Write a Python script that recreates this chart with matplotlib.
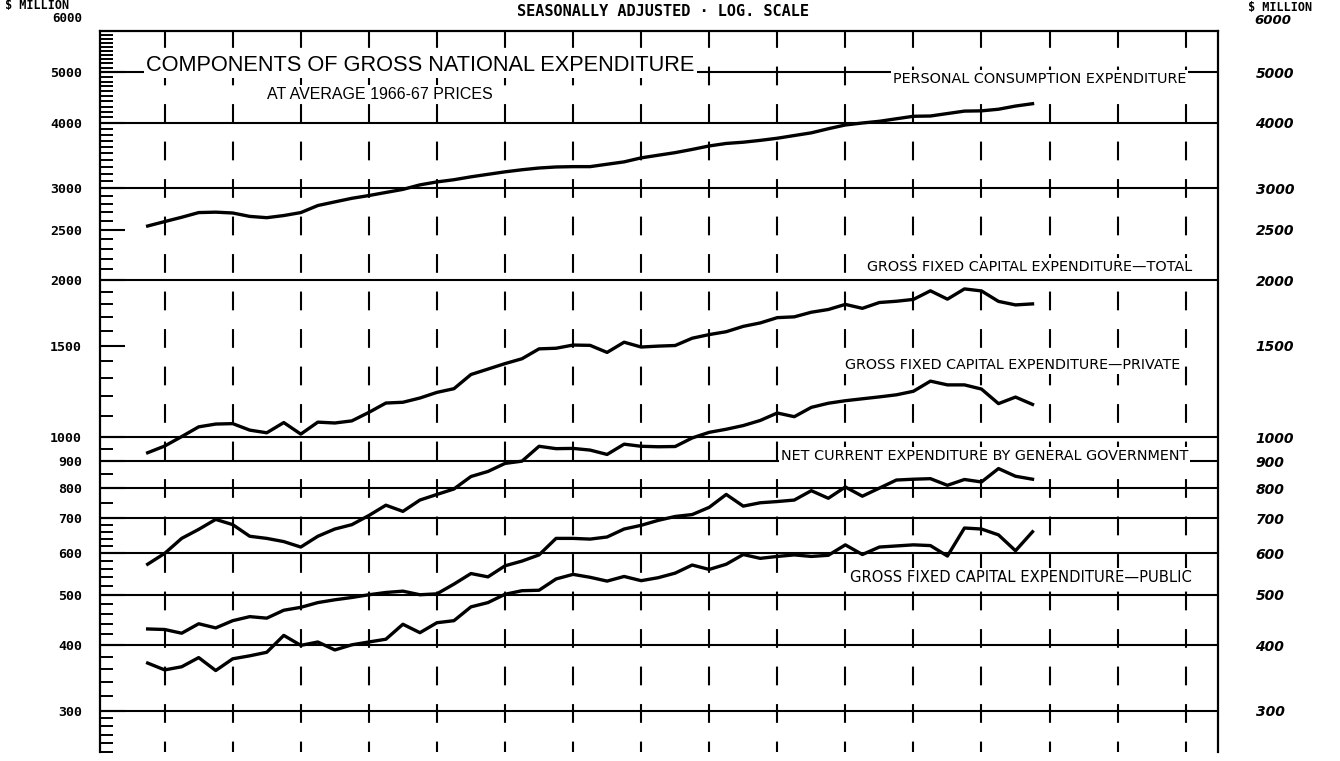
import matplotlib.pyplot as plt
from matplotlib.ticker import FixedLocator, FixedFormatter, NullFormatter

# quarterly index, first plotted quarter = 0
quarters = list(range(53))

personal_consumption = [2540, 2590, 2640, 2695, 2700, 2690, 2650, 2635, 2660, 2695,
                        2780, 2825, 2870, 2905, 2945, 2985, 3045, 3085, 3115, 3155,
                        3190, 3225, 3255, 3280, 3295, 3300, 3300, 3335, 3370, 3430,
                        3470, 3510, 3560, 3615, 3655, 3675, 3705, 3740, 3785, 3830,
                        3900, 3965, 4000, 4030, 4075, 4120, 4125, 4170, 4215, 4220,
                        4250, 4310, 4355]
gfce_total = [935, 963, 1004, 1048, 1061, 1063, 1033, 1021, 1068, 1015,
              1070, 1066, 1076, 1117, 1164, 1168, 1190, 1220, 1240, 1320,
              1352, 1385, 1415, 1478, 1482, 1503, 1501, 1455, 1522, 1490,
              1496, 1500, 1549, 1574, 1594, 1632, 1657, 1696, 1702, 1737,
              1758, 1798, 1767, 1813, 1823, 1838, 1909, 1840, 1925, 1908,
              1822, 1794, 1802]
gfce_private = [572, 600, 641, 667, 697, 681, 647, 641, 632, 617,
                647, 668, 681, 709, 742, 722, 759, 778, 797, 842,
                861, 892, 901, 962, 952, 953, 946, 928, 971, 962,
                960, 961, 998, 1023, 1037, 1054, 1078, 1114, 1096, 1142,
                1163, 1176, 1186, 1196, 1207, 1226, 1282, 1261, 1261, 1238,
                1161, 1195, 1157]
net_current_govt = [430, 429, 422, 440, 432, 446, 454, 451, 467, 473,
                    483, 489, 494, 500, 505, 508, 500, 502, 524, 549,
                    541, 568, 580, 596, 641, 641, 639, 645, 668, 679,
                    694, 706, 712, 735, 778, 739, 750, 754, 759, 791,
                    765, 804, 772, 800, 829, 832, 834, 810, 831, 822,
                    872, 843, 832]
gfce_public = [370, 359, 364, 379, 358, 377, 382, 388, 418, 400,
               406, 392, 401, 406, 411, 439, 423, 442, 446, 474,
               483, 501, 509, 510, 536, 547, 540, 531, 542, 532,
               539, 550, 570, 559, 572, 597, 587, 592, 596, 592,
               595, 623, 597, 617, 620, 623, 621, 593, 671, 668,
               651, 607, 660]

grid_levels = [5000, 4000, 3000, 2000, 1000, 900, 800, 700, 600, 500, 400, 300]
label_levels = [5000, 4000, 3000, 2500, 2000, 1500, 1000, 900, 800, 700, 600, 500, 400, 300]
year_marks = list(range(1, 62, 4))

minor_levels = (list(range(250, 300, 10)) + list(range(320, 700, 20)) + [750, 850, 950]
                + [v for v in range(1100, 6000, 100) if v not in label_levels])

fig = plt.figure(figsize=(13.4, 7.61), dpi=100)
ax = fig.add_axes([100 / 1340, 9 / 761, 1118 / 1340, 721 / 761])
ax.set_yscale("log")
ax.set_ylim(250, 6000)
ax.set_xlim(-2.8, 62.9)

for v in grid_levels:
    ax.axhline(v, color="black", lw=1.5, zorder=1)
for t in year_marks:
    ax.axvline(t, color="black", lw=1.5, ls=(4, (9, 9)), zorder=1)

for series in [personal_consumption, gfce_total, gfce_private, net_current_govt, gfce_public]:
    ax.plot(quarters, series, color="black", lw=2.4, solid_joinstyle="round", zorder=5)

# texts on the chart
box = dict(facecolor="white", edgecolor="none", pad=1.5)
ax.text(-0.1, 5160, "COMPONENTS OF GROSS NATIONAL EXPENDITURE", fontsize=15.7,
        family="Liberation Sans", ha="left", va="center", bbox=box, zorder=3)
ax.text(7.0, 4530, "AT AVERAGE 1966-67 PRICES", fontsize=11.5,
        family="Liberation Sans", ha="left", va="center", bbox=box, zorder=3)
ax.text(43.8, 4850, "PERSONAL CONSUMPTION EXPENDITURE", fontsize=10.4,
        ha="left", va="center", bbox=box, zorder=3)
ax.text(42.3, 2124, "GROSS FIXED CAPITAL EXPENDITURE\u2014TOTAL", fontsize=10.4,
        ha="left", va="center", bbox=box, zorder=3)
ax.text(41.0, 1376, "GROSS FIXED CAPITAL EXPENDITURE\u2014PRIVATE", fontsize=10.3,
        ha="left", va="center", bbox=box, zorder=3)
ax.text(37.2, 923, "NET CURRENT EXPENDITURE BY GENERAL GOVERNMENT", fontsize=10.4,
        ha="left", va="center", bbox=box, zorder=3)
ax.text(41.3, 539, "GROSS FIXED CAPITAL EXPENDITURE\u2014PUBLIC", fontsize=10.6,
        ha="left", va="center", bbox=box, zorder=3)

# axes and ticks
ax.spines["bottom"].set_visible(False)
for s in ["left", "right", "top"]:
    ax.spines[s].set_linewidth(1.6)
ax.set_xticks([])

ax.yaxis.set_major_locator(FixedLocator(label_levels))
ax.yaxis.set_major_formatter(FixedFormatter([str(v) for v in label_levels]))
ax.yaxis.set_minor_locator(FixedLocator(minor_levels))
ax.yaxis.set_minor_formatter(NullFormatter())
ax.tick_params(axis="y", which="major", direction="in", length=18, width=1.5, pad=13,
               left=True, right=True, labelleft=True, labelright=False)
ax.tick_params(axis="y", which="minor", direction="in", length=9, width=1.4,
               left=True, right=True)
for lab in ax.get_yticklabels():
    lab.set_family("DejaVu Sans Mono")
    lab.set_fontweight("bold")
    lab.set_fontsize(9.5)

ax2 = ax.twinx()
ax2.set_yscale("log")
ax2.set_ylim(250, 6000)
ax2.yaxis.set_major_locator(FixedLocator(label_levels))
ax2.yaxis.set_major_formatter(FixedFormatter([str(v) for v in label_levels]))
ax2.yaxis.set_minor_locator(FixedLocator(minor_levels))
ax2.yaxis.set_minor_formatter(NullFormatter())
ax2.tick_params(axis="y", which="both", length=0, pad=27)
for s in ["left", "right", "top", "bottom"]:
    ax2.spines[s].set_visible(False)
for lab in ax2.get_yticklabels():
    lab.set_fontweight("bold")
    lab.set_fontstyle("italic")
    lab.set_fontsize(10)

# header texts
mono = dict(family="DejaVu Sans Mono", fontweight="bold")
fig.text(5 / 1340, 1 - 6 / 761, "$ MILLION", fontsize=8.5, va="center", ha="left", **mono)
fig.text(82 / 1340, 1 - 18 / 761, "6000", fontsize=9, va="center", ha="right", **mono)
fig.text(1248 / 1340, 1 - 7 / 761, "$ MILLION", fontsize=8.5, va="center", ha="left", **mono)
fig.text(1254 / 1340, 1 - 20 / 761, "6000", fontsize=9.5, va="center", ha="left",
         fontweight="bold", fontstyle="italic")
fig.text(663 / 1340, 1 - 11 / 761, "SEASONALLY ADJUSTED \u00b7 LOG. SCALE", fontsize=11,
         va="center", ha="center", **mono)

plt.savefig("out.png", dpi=100)
